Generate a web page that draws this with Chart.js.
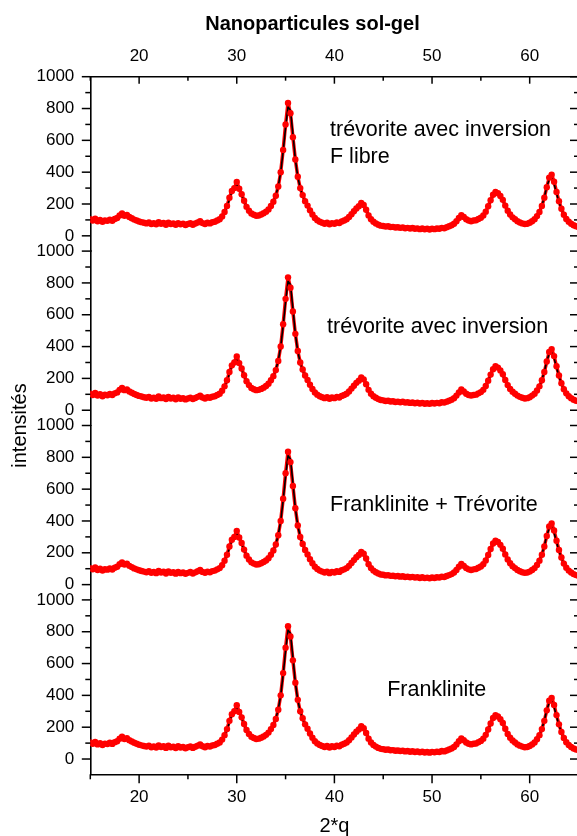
<!DOCTYPE html>
<html><head><meta charset="utf-8">
<script src="https://cdn.jsdelivr.net/npm/chart.js@4.4.0/dist/chart.umd.min.js"></script>
<style>
html,body{margin:0;padding:0;overflow:hidden;background:#fff;width:577px;height:836px}
#wrap{position:absolute;left:0;top:0;width:600px;height:836px}
</style>
</head><body><div id="wrap"><canvas id="c" width="600" height="836"></canvas></div>
<script>
// 2θ positions (degrees)
const angles = [
15,15.25,15.5,15.75,16,16.25,16.5,16.75,17,17.25,17.5,17.75,18,18.25,18.5,18.75,19,19.25,19.5,19.75,
20,20.25,20.5,20.75,21,21.25,21.5,21.75,22,22.25,22.5,22.75,23,23.25,23.5,23.75,24,24.25,24.5,24.75,
25,25.25,25.5,25.75,26,26.25,26.5,26.75,27,27.25,27.5,27.75,28,28.25,28.5,28.75,29,29.25,29.5,29.75,
30,30.25,30.5,30.75,31,31.25,31.5,31.75,32,32.25,32.5,32.75,33,33.25,33.5,33.75,34,34.25,34.5,34.75,
35,35.25,35.5,35.75,36,36.25,36.5,36.75,37,37.25,37.5,37.75,38,38.25,38.5,38.75,39,39.25,39.5,39.75,
40,40.25,40.5,40.75,41,41.25,41.5,41.75,42,42.25,42.5,42.75,43,43.25,43.5,43.75,44,44.25,44.5,44.75,
45,45.25,45.5,45.75,46,46.25,46.5,46.75,47,47.25,47.5,47.75,48,48.25,48.5,48.75,49,49.25,49.5,49.75,
50,50.25,50.5,50.75,51,51.25,51.5,51.75,52,52.25,52.5,52.75,53,53.25,53.5,53.75,54,54.25,54.5,54.75,
55,55.25,55.5,55.75,56,56.25,56.5,56.75,57,57.25,57.5,57.75,58,58.25,58.5,58.75,59,59.25,59.5,59.75,
60,60.25,60.5,60.75,61,61.25,61.5,61.75,62,62.25,62.5,62.75,63,63.25,63.5,63.75,64,64.25,64.5,64.75,
65];

// measured intensities (red points)
const obsCounts = [
104,96,108,92,100,88,97,94,102,95,106,112,128,140,126,131,118,110,102,96,
90,86,82,78,84,74,79,72,86,76,81,70,83,74,78,69,80,72,76,68,
74,79,70,77,84,92,80,74,82,78,85,88,96,104,122,150,188,240,282,300,
338,296,262,220,182,158,140,132,126,128,134,142,152,166,188,214,252,310,400,540,
700,835,770,620,480,372,300,256,218,190,160,134,112,98,88,82,76,82,72,80,
76,84,80,90,96,104,118,136,154,172,186,206,194,164,128,104,88,78,70,64,
62,58,60,55,56,52,54,50,53,48,50,46,49,44,47,42,46,41,44,40,
45,42,46,44,50,48,54,60,66,76,92,112,130,118,104,96,92,96,98,106,
114,128,152,186,224,258,276,268,250,226,190,158,134,116,104,92,84,78,74,76,
82,92,104,124,150,188,240,306,366,384,340,276,218,170,132,106,88,76,66,60,
56];

// fitted profile (black line)
const fitCounts = [
100,99,98,97,96,95,95,96,98,101,106,113,122,128,127,122,114,106,99,93,
89,85,82,80,79,78,77,76,76,75,75,74,74,74,73,73,73,73,73,73,
74,74,75,76,79,84,82,78,78,80,83,88,95,105,120,145,182,230,278,310,
318,298,258,214,180,156,140,131,127,127,131,139,150,165,186,214,254,312,400,530,
680,810,790,640,480,370,300,252,214,184,158,134,114,100,90,84,80,78,77,77,
78,80,83,88,95,104,116,132,150,168,184,196,190,164,130,104,88,77,70,65,
61,58,56,54,53,52,51,50,49,48,47,46,46,45,45,44,44,43,43,43,
43,44,45,46,48,50,53,58,65,76,92,110,120,116,104,96,93,94,98,105,
115,130,154,186,222,254,270,264,244,216,184,156,132,114,101,91,84,79,76,77,
81,90,103,122,150,190,244,306,356,362,326,268,212,166,130,104,87,75,67,61,
57];

// panels, listed from bottom to top
const panelTitles = [
  ["Franklinite"],
  ["Franklinite + Trévorite"],
  ["trévorite avec inversion"],
  ["trévorite avec inversion", "F libre"]
];
const xTickLabels = [20, 30, 40, 50, 60];
const yTickLabels = [0, 200, 400, 600, 800, 1000];
const xAxisTitle = "2*q";
const topAxisTitle = "Nanoparticules sol-gel";
const yAxisTitle = "intensités";

// ---- layout / styling (not data) ----
const FONT = '"Liberation Sans", Arial, sans-serif';
const notePos = [
  [{x:45.4, y:436}],
  [{x:39.55, y:497}],
  [{x:39.25, y:522}],
  [{x:39.55, y:665}, {x:39.55, y:495}]
];

const datasets = [];
const scales = {
  x: {
    type:'linear', position:'bottom', min:15, max:65,
    afterBuildTicks: s => { s.ticks = xTickLabels.map(v => ({value:v})); },
    afterFit: s => { s.height = 836 - 774.3; },
    ticks: {callback: v => String(v), color:'#000', padding:13, autoSkip:false, font:{family:FONT, size:17}, maxRotation:0},
    grid: {display:false, drawTicks:false},
    border: {display:true, color:'#000', width:1.6},
    title: {display:true, text:xAxisTitle, color:'#000', font:{family:FONT, size:20, lineHeight:1}, padding:{top:0,bottom:0}}
  },
  x2: {
    type:'linear', position:'top', min:15, max:65,
    afterBuildTicks: s => { s.ticks = xTickLabels.map(v => ({value:v})); },
    afterFit: s => { s.height = 76.7; },
    ticks: {callback: v => String(v), color:'#000', padding:10, autoSkip:false, font:{family:FONT, size:17}, maxRotation:0},
    grid: {display:false, drawTicks:false},
    border: {display:true, color:'#000', width:1.6},
    title: {display:false}
  }
};

panelTitles.forEach((t, i) => {
  const id = 'y' + i;
  scales[id] = {
    type:'linear', position:'left', stack:'panels', stackWeight:1,
    min:-96, max:1000,
    afterBuildTicks: s => { s.ticks = yTickLabels.map(v => ({value:v})); },
    afterFit: s => { s.width = 90.3; },
    ticks: {callback: v => String(v), color:'#000', padding:16, autoSkip:false, font:{family:FONT, size:17}},
    grid: {display:false, drawTicks:false},
    border: {display:true, color:'#000', width:1.6}
  };
  const obsPts = angles.map((a, k) => ({x:a, y:obsCounts[k]}));
  datasets.push({
    label: t.join(' ') + ' (trace)', yAxisID:id, xAxisID:'x', order:3,
    data: obsPts, borderColor:'#ff0000', borderWidth:3.5, borderJoinStyle:'round', borderCapStyle:'round',
    pointRadius:0, fill:false, tension:0
  });
  datasets.push({
    label: t.join(' ') + ' (fit)', yAxisID:id, xAxisID:'x', order:2,
    data: angles.map((a, k) => ({x:a, y:fitCounts[k]})),
    borderColor:'#000', borderWidth:1.6, borderJoinStyle:'round', pointRadius:0, fill:false, tension:0
  });
  datasets.push({
    label: t.join(' '), yAxisID:id, xAxisID:'x', order:1,
    data: obsPts,
    showLine:false, pointRadius:3.2, pointBackgroundColor:'#ff0000', pointBorderWidth:0, pointHoverRadius:3.2
  });
});

const decor = {
  id:'decor',
  afterDraw(chart) {
    const ctx = chart.ctx, ca = chart.chartArea;
    const xs = chart.scales.x;
    const line = (x1,y1,x2,y2) => { ctx.beginPath(); ctx.moveTo(x1,y1); ctx.lineTo(x2,y2); ctx.stroke(); };
    ctx.save();
    ctx.strokeStyle = '#000'; ctx.lineWidth = 1.5;
    for (let v = 15; v <= 65; v += 5) {
      const px = xs.getPixelForValue(v);
      const major = v % 10 === 0;
      line(px, ca.bottom, px, ca.bottom + (major ? 9 : 5));
      line(px, ca.top, px, ca.top + (major ? 7 : 4));
    }
    panelTitles.forEach((t, i) => {
      const ys = chart.scales['y' + i];
      for (let v = 0; v <= 1000; v += 100) {
        const py = ys.getPixelForValue(v);
        const major = v % 200 === 0;
        line(ca.left - (major ? 8.5 : 5), py, ca.left, py);
        line(ca.right - (major ? 8.5 : 4.5), py, ca.right, py);
      }
      ctx.fillStyle = '#000';
      ctx.font = '21.5px ' + FONT;
      ctx.textAlign = 'left'; ctx.textBaseline = 'middle';
      t.forEach((txt, j) => {
        const p = notePos[i][j];
        ctx.fillText(txt, xs.getPixelForValue(p.x), ys.getPixelForValue(p.y));
      });
    });
    ctx.lineWidth = 1.6;
    line(ca.right, ca.top, ca.right, ca.bottom);
    ctx.fillStyle = '#000';
    ctx.font = 'bold 20px ' + FONT;
    ctx.textAlign = 'center'; ctx.textBaseline = 'middle';
    ctx.fillText(topAxisTitle, 312.5, 24);
    ctx.save();
    ctx.translate(20, (ca.top + ca.bottom) / 2);
    ctx.rotate(-Math.PI / 2);
    ctx.font = '20px ' + FONT;
    ctx.textAlign = 'center'; ctx.textBaseline = 'middle';
    ctx.fillText(yAxisTitle, 0, 0);
    ctx.restore();
    ctx.restore();
  }
};

new Chart(document.getElementById('c'), {
  type:'line',
  data:{datasets},
  options:{
    responsive:false, animation:false, devicePixelRatio:1,
    layout:{padding:{left:0, right:600 - 578.5, top:0, bottom:0}},
    plugins:{legend:{display:false}, tooltip:{enabled:false}, title:{display:false}},
    scales
  },
  plugins:[decor]
});
</script>
</body></html>
